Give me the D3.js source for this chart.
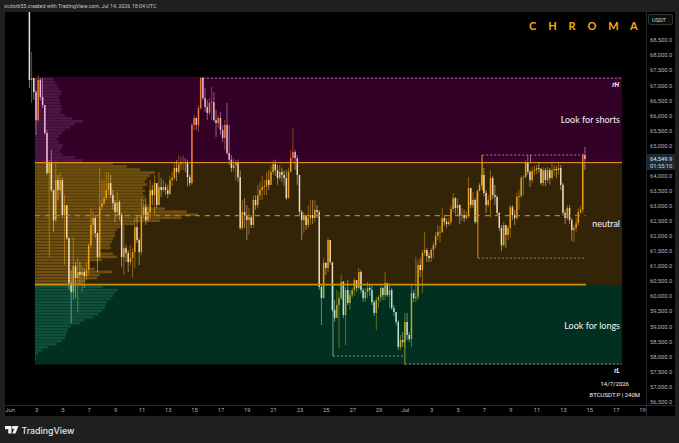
<!DOCTYPE html>
<html>
<head>
<meta charset="utf-8">
<script src="https://cdn.jsdelivr.net/npm/d3@7"></script>
<style>
  html, body { margin: 0; padding: 0; background: #1f1f1f; }
  svg { display: block; font-family: Roboto, "Liberation Sans", sans-serif; }
</style>
</head>
<body>
<svg width="679" height="443"></svg>
<script>
// 4h candles, first one opens Jun 2 12:00 UTC
var firstTime = Date.UTC(2026, 5, 2, 12);
var firstOpen = 69500;
var closes = [
  67170,67240,66770,65840,67170,66610,66340,65410,64090,64420,63520,62520,63850,63520,63850,62690,63020,61930,60430,60130,
  60990,60600,60800,60700,60800,60660,60860,61690,62360,62590,62090,61290,62950,63090,63250,63520,63750,63350,63090,62790,
  63120,62690,61290,61590,61430,61130,61260,61460,62290,61860,61460,62690,62950,62520,62790,63520,63350,63750,63020,63620,
  63520,63620,63520,63390,63850,63920,64250,64120,64380,64420,64450,64420,63950,63750,65680,65910,65680,66240,67240,66570,
  66280,66080,66410,66440,65840,65740,65910,65510,65250,65680,64750,64520,64250,64350,64420,63950,62260,62790,62690,62520,
  62620,62360,63190,63020,63350,63520,63620,63650,63850,63690,64120,64380,64180,63920,64120,64020,63920,63250,64120,64580,
  64780,64580,64020,62790,62520,62690,62360,62590,62690,62590,62860,62790,60300,59930,61100,60930,61860,61130,59540,59270,
  59700,59930,60470,59370,60200,59770,60030,60200,60530,60270,60800,60200,59930,60130,60270,60200,59800,59440,59870,59970,
  60270,60030,60430,60030,60200,59600,59470,59140,58310,58540,58470,59140,58710,58570,60100,59930,59970,61030,60860,61430,
  61530,61330,61260,61530,61690,61990,62130,62130,62590,62460,62390,62460,62890,63250,62920,63020,62660,62690,62590,62660,
  63590,63020,63190,62460,63490,63690,64020,63420,63020,63190,63920,63350,63290,62760,62260,61690,62360,62030,62260,62950,
  62690,62590,63290,63320,63920,63950,64420,64120,63850,64150,64180,64250,64220,63750,64180,63850,64180,63920,64180,64220,
  64180,64250,63690,62760,62590,62920,62520,62190,62260,62420,62790,62860,64680,64549.9
];
var highs = [
  69570,68100,67240,66840,67340,67240,67240,66340,65510,64520,64850,63520,64420,64020,64120,63920,63350,63020,61930,60860,
  61960,61130,61260,61130,60990,60930,61130,61760,62920,62790,62690,62090,64250,63850,63850,64120,64120,64020,63520,63190,
  63450,63190,62760,62360,61690,61530,61690,61590,62590,62690,61930,63250,63190,63250,63020,63850,63690,64020,63750,64120,
  63920,63850,63750,63690,63990,64120,64420,64520,64680,64620,64680,64580,64520,64020,65740,66010,65940,66340,67270,67270,
  66910,66510,66570,66940,66770,66180,66010,66110,65680,65840,66410,65680,64680,64580,64520,64520,64180,63190,63250,63020,
  62920,62690,63350,63350,63690,63790,63990,63850,64120,64180,64350,64520,64520,64350,64350,64250,64180,64180,64250,64850,
  65580,64850,64680,64020,62860,62790,62690,63020,63190,63190,63190,63020,62860,60370,61260,61130,61930,61860,61130,59870,
  60200,60130,60700,60500,60300,60530,60200,60270,60600,60530,60930,60860,60270,60270,60470,60370,60330,59870,59970,60030,
  60330,60300,60800,60430,60370,60270,59700,59470,59200,58710,58810,59440,59440,58810,60370,60200,61300,61200,61260,61530,
  62130,61590,61460,61590,61790,62130,62360,62330,62920,62690,62590,62590,63020,63420,63290,63250,63050,62920,62860,62790,
  63950,63590,63450,63250,63550,63750,64680,64250,63520,63350,64180,63990,63690,63350,62790,62360,62460,62360,62330,63020,
  63020,62860,63420,63520,63990,64020,64520,64680,64180,64280,64320,64350,64450,64250,64280,64250,64280,64250,64420,64350,
  64320,64420,64350,63750,62860,63020,63020,62590,62360,62590,62920,62990,64750,64950
];
var lows = [
  66910,66410,66510,65350,65780,66510,66240,65350,64020,61300,63450,62130,62460,63190,63350,62590,61030,61860,60200,59100,
  59870,59930,59440,60370,60130,60270,60530,60700,61590,62030,61930,60800,61260,62860,63020,63190,63350,63250,62860,62460,
  62690,62520,60960,60700,61130,60800,61030,60600,60930,61760,61030,61360,62590,62360,62460,62590,63020,62690,62920,63020,
  63290,63450,63350,63250,63350,63650,63850,63820,64050,64180,64180,64120,63650,63650,63690,65510,65510,65450,66180,66510,
  66110,65840,66010,65840,65780,65280,65580,65350,65110,64850,64680,64350,64120,64120,63850,63790,62190,62190,62260,61860,
  62030,62260,62260,62860,62920,63190,63190,63350,63350,63520,63850,64020,63990,63690,63850,63790,63650,63190,63250,64120,
  64450,64180,63690,62690,61860,62090,62190,62260,62360,62390,62460,62590,60200,59040,59930,60700,60800,61030,59470,59140,
  59270,58270,59870,59270,58370,59700,59540,59930,60000,60130,60200,60100,59800,59800,59930,60000,59700,59340,58870,59600,
  59800,59870,59870,59970,59600,59540,59340,59040,58210,58210,58310,58270,58540,58470,58310,59800,59800,59870,60630,60100,
  61330,61130,61130,61130,61260,61590,61860,61790,62090,62330,62260,62330,62360,62790,62720,62660,62390,62490,62460,62520,
  62590,62920,62920,62390,62390,63450,63620,63320,62760,62950,62620,63220,63020,62690,62160,61490,61630,61590,61860,61930,
  62520,62360,62520,62860,63250,63350,63920,64020,63620,63750,64020,64050,64090,63690,63650,63650,63750,63690,63850,63990,
  63920,64020,63520,62660,62390,62520,62390,61830,61790,62130,62330,62720,62760,64180
];

// volume profile, one row per 100 USD going down from 67,200
var profileTop = 67200;
var profileVolumes = [
  18,20,22,24,27,26,24,25,25,26,27,26,30,37,48,40,35,30,27,24,22,24,28,27,25,28,40,48,
  78,92,105,120,115,112,110,112,108,110,108,110,110,108,112,130,152,163,147,125,100,85,82,80,80,78,77,75,76,65,78,82,67,55,55,60,77,65,62,50,48,
  68,83,80,78,76,72,70,70,67,63,58,50,45,36,33,32,31,30,27,22,13,7,3,1,1
];

// 64,500 sits behind the price tag and 69,000 behind the currency box
var priceTicks = [68500,68000,67500,67000,66500,66000,65500,65000,64000,63500,63000,62500,62000,61500,61000,60500,60000,59500,59000,58500,58000,57500,57000,56500];
var dayTicks = [1,3,5,7,9,11,13,15,17,19,21,23,25,27,29].map(function(d){ return new Date(Date.UTC(2026,5,d)); })
  .concat([1,3,5,7,9,11,13,15,17,19].map(function(d){ return new Date(Date.UTC(2026,6,d)); }));

var rangeHigh = 67280, premium = 64430, discount = 60380, rangeLow = 57730, midPrice = 62670;
var zoneStart = Date.UTC(2026,5,2,22), zoneEnd = Date.UTC(2026,6,17,11,30), levelEnd = Date.UTC(2026,6,14,18);
var tLow1 = Date.UTC(2026,5,25,13), tJul1 = Date.UTC(2026,6,1), tBox1 = Date.UTC(2026,6,6,13), tBox2 = Date.UTC(2026,6,6,21), tBox3 = Date.UTC(2026,6,10,13), tHigh = Date.UTC(2026,5,15,16);

var x = d3.scaleUtc().domain([Date.UTC(2026,5,3), Date.UTC(2026,6,19)]).range([36, 642]);
var y = d3.scaleLinear().domain([68500, 56500]).range([40, 401.5]);

var orange = "#f0a20a", cream = "#f4efe4";
var svg = d3.select("svg");

svg.append("clipPath").attr("id", "plot").append("rect").attr("x", 5).attr("y", 12).attr("width", 641).attr("height", 393);

svg.append("rect").attr("x", 5).attr("y", 12).attr("width", 670).attr("height", 404).attr("fill", "#000");

var plot = svg.append("g").attr("clip-path", "url(#plot)");

// profile
var rowPrice = function(i){ return profileTop - i * 100; };
plot.append("g").selectAll("rect")
  .data(profileVolumes)
  .enter()
  .append("rect")
  .attr("x", x(zoneStart))
  .attr("y", function(d,i){ return y(rowPrice(i)) - 1.3; })
  .attr("width", function(d){ return d; })
  .attr("height", 2.6)
  .attr("fill", function(d,i){
    var p = rowPrice(i);
    if (p > premium) return "#201d24";
    if (p > discount) return "#4c3609";
    return "#132923";
  });

// candles
var opens = [firstOpen].concat(closes.slice(0, closes.length - 1));
var candles = closes.map(function(c,i){
  return { t: firstTime + i * 4 * 3600 * 1000, o: opens[i], c: c, h: highs[i], l: lows[i] };
});
var candle = plot.append("g").selectAll("g").data(candles).enter().append("g");
candle.append("line")
  .attr("x1", function(d){ return x(d.t); })
  .attr("x2", function(d){ return x(d.t); })
  .attr("y1", function(d){ return y(d.h); })
  .attr("y2", function(d){ return y(d.l); })
  .attr("stroke", function(d){ return d.c >= d.o ? orange : cream; })
  .attr("stroke-opacity", 0.55)
  .attr("stroke-width", 0.9);
candle.append("rect")
  .attr("x", function(d){ return x(d.t) - 0.75; })
  .attr("y", function(d){ return y(Math.max(d.o, d.c)); })
  .attr("width", 1.5)
  .attr("height", function(d){ return Math.max(0.8, Math.abs(y(d.o) - y(d.c))); })
  .attr("fill", function(d){ return d.c >= d.o ? orange : cream; })
  .attr("fill-opacity", 0.92);

// range boxes, under the zones so they pick up the tint
var boxLines = [
  { t1: tLow1, p1: discount, t2: tLow1, p2: 58010, color: "#fff", o: 0.55, w: 1 },
  { t1: tLow1, p1: 58010, t2: tJul1, p2: 58010, color: "#fff", o: 0.7, w: 0.8, dash: "2,2" },
  { t1: tJul1, p1: 58540, t2: tJul1, p2: rangeLow, color: orange, o: 0.8, w: 1 },
  { t1: tBox1, p1: 63450, t2: tBox1, p2: 61260, color: orange, o: 0.85, w: 1 },
  { t1: tBox1, p1: 61260, t2: levelEnd, p2: 61260, color: "#fff", o: 0.6, w: 0.8, dash: "2,2" },
  { t1: tBox2, p1: 63520, t2: tBox2, p2: 64680, color: orange, o: 0.85, w: 1 },
  { t1: tBox2, p1: 64680, t2: levelEnd, p2: 64680, color: "#fff", o: 0.7, w: 0.8, dash: "2,2" },
  { t1: tBox3, p1: 64680, t2: tBox3, p2: premium, color: "#fff", o: 0.7, w: 0.8 },
  { t1: tHigh, p1: 67230, t2: zoneEnd, p2: 67230, color: "#fff", o: 0.7, w: 0.8, dash: "2,2" },
  { t1: tJul1, p1: rangeLow + 15, t2: zoneEnd, p2: rangeLow + 15, color: "#fff", o: 0.7, w: 0.8, dash: "2,2" }
];
plot.append("g").selectAll("line").data(boxLines).enter().append("line")
  .attr("x1", function(d){ return x(d.t1); })
  .attr("x2", function(d){ return x(d.t2); })
  .attr("y1", function(d){ return y(d.p1); })
  .attr("y2", function(d){ return y(d.p2); })
  .attr("stroke", function(d){ return d.color; })
  .attr("stroke-opacity", function(d){ return d.o; })
  .attr("stroke-width", function(d){ return d.w; })
  .attr("stroke-dasharray", function(d){ return d.dash || null; });

// zones
var zones = [
  { top: rangeHigh, bottom: premium, color: "rgb(255,0,200)" },
  { top: premium, bottom: discount, color: "rgb(255,180,40)" },
  { top: discount, bottom: rangeLow, color: "rgb(5,235,160)" }
];
plot.append("g").selectAll("rect").data(zones).enter().append("rect")
  .attr("x", x(zoneStart))
  .attr("y", function(d){ return y(d.top); })
  .attr("width", x(zoneEnd) - x(zoneStart))
  .attr("height", function(d){ return y(d.bottom) - y(d.top); })
  .attr("fill", function(d){ return d.color; })
  .attr("fill-opacity", 0.2);

// levels on top of the zones
plot.append("line").attr("x1", x(zoneStart)).attr("x2", x(zoneEnd)).attr("y1", y(premium)).attr("y2", y(premium))
  .attr("stroke", "#f59a1e").attr("stroke-width", 1);
plot.append("line").attr("x1", x(zoneStart)).attr("x2", x(levelEnd)).attr("y1", y(discount)).attr("y2", y(discount))
  .attr("stroke", "#c98f10").attr("stroke-width", 1.6);
plot.append("line").attr("x1", x(zoneStart)).attr("x2", x(levelEnd)).attr("y1", y(midPrice)).attr("y2", y(midPrice))
  .attr("stroke", "#b98410").attr("stroke-width", 1.4).attr("stroke-dasharray", "5,5");
plot.append("line").attr("x1", 5).attr("x2", 646).attr("y1", y(64549.9)).attr("y2", y(64549.9))
  .attr("stroke", "#fff").attr("stroke-opacity", 0.1).attr("stroke-width", 0.6).attr("stroke-dasharray", "1,2");

// axes
svg.append("line").attr("x1", 646.5).attr("x2", 646.5).attr("y1", 12).attr("y2", 416).attr("stroke", "#2a2a2a");
svg.append("line").attr("x1", 5).attr("x2", 675).attr("y1", 405.5).attr("y2", 405.5).attr("stroke", "#2a2a2a");

var yAxis = svg.append("g").attr("transform", "translate(647,0)")
  .call(d3.axisRight(y).tickValues(priceTicks).tickSize(0).tickPadding(3).tickFormat(d3.format(",.1f")));
yAxis.select(".domain").remove();
yAxis.selectAll("text").attr("fill", "#b2b5be").attr("font-size", 5.8).attr("font-family", "Roboto, sans-serif");

var xAxis = svg.append("g").attr("transform", "translate(0,406)")
  .call(d3.axisBottom(x).tickValues(dayTicks).tickSize(0).tickPadding(2).tickFormat(function(d){
    var day = d.getUTCDate();
    if (day === 1) return d.getUTCMonth() === 5 ? "Jun" : "Jul";
    return day;
  }));
xAxis.select(".domain").remove();
xAxis.selectAll("text").attr("fill", "#b2b5be").attr("font-size", 5.8).attr("font-family", "Roboto, sans-serif");

// price tag
svg.append("rect").attr("x", 647).attr("y", 154).attr("width", 28).attr("height", 16).attr("fill", "#1c2a35");
svg.append("text").attr("x", 650).attr("y", 160.5).attr("fill", "#e6e8ee").attr("font-size", 5.8).text("64,549.9");
svg.append("text").attr("x", 650).attr("y", 167.5).attr("fill", "#cfd2da").attr("font-size", 5.8).text("01:55:10");

// currency box
svg.append("rect").attr("x", 648.5).attr("y", 14.5).attr("width", 24).attr("height", 10).attr("rx", 1.5).attr("fill", "#0d0d0d").attr("stroke", "#333");
svg.append("text").attr("x", 652).attr("y", 21.5).attr("fill", "#d1d4dc").attr("font-size", 5.6).text("USDT");

// labels
var label = function(txt, px, py, size, anchor, color){
  return svg.append("text").attr("x", px).attr("y", py).attr("font-size", size)
    .attr("text-anchor", anchor || "start").attr("fill", color || "#f2f2f2").text(txt);
};
label("victorb55 created with TradingView.com, Jul 14, 2026 18:04 UTC", 4, 8, 5.35, "start", "#c4c4c4");
label("C H R O M A", 529, 30, 11, "start", "#f7aa14").attr("letter-spacing", 4.6).attr("font-family", "Lato, sans-serif").attr("font-weight", 700);
label("Look for shorts", 620, 122.5, 9, "end").attr("font-family", "Lato, sans-serif");
label("neutral", 620, 227, 9, "end").attr("font-family", "Lato, sans-serif");
label("Look for longs", 620, 328.5, 9, "end").attr("font-family", "Lato, sans-serif");
label("rH", 619, 87, 6.5, "end").attr("font-style", "italic").attr("font-weight", 700);
label("rL", 620, 372.5, 6.5, "end").attr("font-style", "italic").attr("font-weight", 700);
label("14/7/2026", 629, 386, 6, "end");
label("BTCUSDT.P | 240M", 640, 397, 6, "end");

// footer logo
svg.append("path").attr("fill", "#f0f0f0")
  .attr("d", "M5 426h6.5v7.5h-3.2v-4.3h-3.3z M13.5 426h5l-3 7.5h-3.2l1.9-4.7a1.5 1.5 0 1 1 -0.7-2.8z");
label("TradingView", 21.5, 434, 8.8, "start", "#e8e8e8").attr("font-family", "Inter, sans-serif").attr("font-weight", 500);
</script>
</body>
</html>
